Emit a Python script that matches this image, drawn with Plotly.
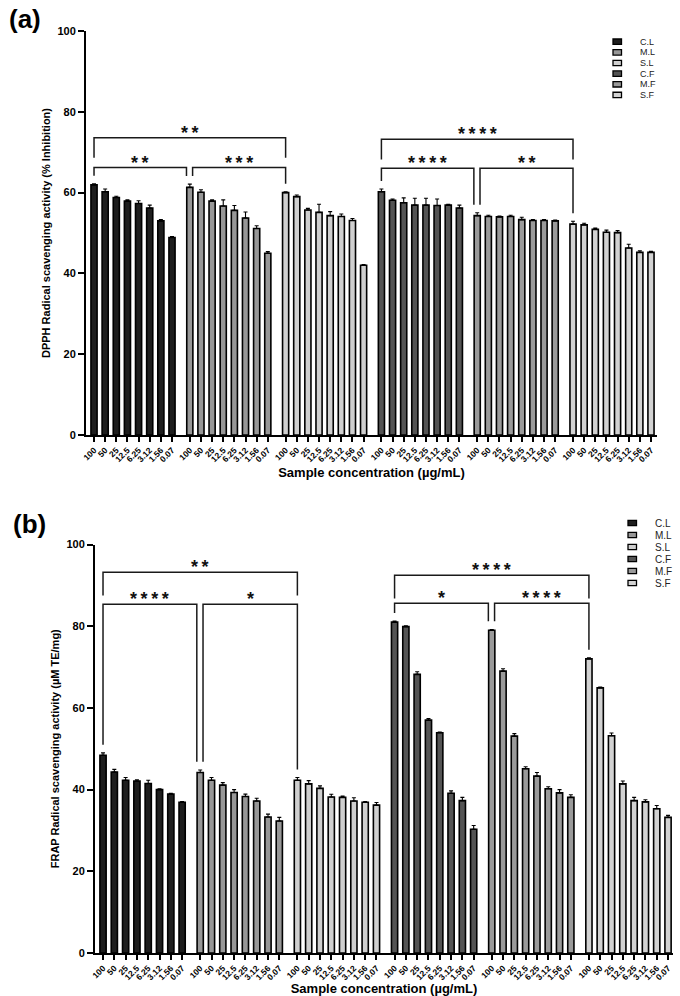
import plotly.graph_objects as go

W, H = 680, 996

samples = ["C.L", "M.L", "S.L", "C.F", "M.F", "S.F"]
concentrations = ["100", "50", "25", "12.5", "6.25", "3.12", "1.56", "0.07"]
colors = ["#1e1e1e", "#979797", "#cfcfcf", "#545454", "#9a9a9a", "#d2d2d2"]

# ---- Panel (a): DPPH (% inhibition) ----
dpph_CL = [61.9, 60.2, 58.8, 57.9, 57.3, 56.2, 53.0, 48.9]
dpph_CL_err = [0.3, 0.7, 0.3, 0.3, 0.7, 0.7, 0.3, 0.2]
dpph_ML = [61.3, 60.1, 57.9, 56.7, 55.6, 53.7, 51.1, 45.0]
dpph_ML_err = [0.8, 0.6, 0.3, 1.5, 1.2, 1.5, 0.7, 0.4]
dpph_SL = [60.0, 59.0, 55.7, 55.1, 54.3, 54.1, 53.1, 42.0]
dpph_SL_err = [0.2, 0.4, 0.4, 2.0, 1.0, 0.6, 0.5, 0.2]
dpph_CF = [60.2, 58.1, 57.5, 56.9, 56.9, 56.8, 56.9, 56.2]
dpph_CF_err = [0.7, 0.3, 1.2, 1.7, 1.7, 1.6, 0.2, 0.7]
dpph_MF = [54.3, 54.1, 54.0, 54.1, 53.3, 53.1, 53.1, 53.0]
dpph_MF_err = [0.7, 0.3, 0.2, 0.3, 0.6, 0.2, 0.2, 0.2]
dpph_SF = [52.2, 52.0, 50.9, 50.2, 50.1, 46.3, 45.2, 45.2]
dpph_SF_err = [0.7, 0.4, 0.3, 0.5, 0.5, 0.9, 0.4, 0.3]

# ---- Panel (b): FRAP (uM TE/mg) ----
frap_CL = [48.4, 44.3, 42.3, 42.1, 41.5, 40.0, 38.9, 36.9]
frap_CL_err = [0.6, 0.65, 0.65, 0.3, 0.8, 0.2, 0.2, 0.2]
frap_ML = [44.2, 42.3, 41.1, 39.3, 38.3, 37.2, 33.3, 32.3]
frap_ML_err = [0.6, 0.65, 0.6, 0.7, 0.6, 0.7, 0.7, 0.9]
frap_SL = [42.3, 41.4, 40.3, 38.2, 38.1, 37.2, 36.9, 36.2]
frap_SL_err = [0.65, 0.8, 0.6, 0.65, 0.3, 0.8, 0.2, 0.65]
frap_CF = [81.0, 79.9, 68.2, 57.0, 53.9, 39.1, 37.3, 30.3]
frap_CF_err = [0.25, 0.2, 0.65, 0.4, 0.2, 0.6, 0.8, 0.9]
frap_MF = [79.0, 69.0, 53.1, 45.1, 43.3, 40.2, 39.2, 38.1]
frap_MF_err = [0.2, 0.6, 0.6, 0.5, 0.9, 0.5, 0.8, 0.65]
frap_SF = [72.0, 64.9, 53.2, 41.4, 37.3, 37.0, 35.3, 33.2]
frap_SF_err = [0.25, 0.2, 0.65, 0.7, 0.8, 0.5, 0.8, 0.5]

dpph_values = [dpph_CL, dpph_ML, dpph_SL, dpph_CF, dpph_MF, dpph_SF]
dpph_errors = [dpph_CL_err, dpph_ML_err, dpph_SL_err, dpph_CF_err, dpph_MF_err, dpph_SF_err]
frap_values = [frap_CL, frap_ML, frap_SL, frap_CF, frap_MF, frap_SF]
frap_errors = [frap_CL_err, frap_ML_err, frap_SL_err, frap_CF_err, frap_MF_err, frap_SF_err]

# significance brackets: (first group, second group, bracket level, stars, kind)
dpph_brackets = [(0, 2, 73.6, "**", "outer"), (0, 1, 66.2, "**", "left"), (1, 2, 66.2, "***", "right"),
                 (3, 5, 73.2, "****", "outer"), (3, 4, 66.0, "****", "left"), (4, 5, 66.0, "**", "right")]
frap_brackets = [(0, 2, 93.2, "**", "outer"), (0, 1, 85.4, "****", "left"), (1, 2, 85.4, "*", "right"),
                 (3, 5, 92.5, "****", "outer"), (3, 4, 85.6, "*", "left"), (4, 5, 85.6, "****", "right")]

GROUP_STEP = 8.6  # slot units between group starts


def positions(g):
    return [g * GROUP_STEP + i for i in range(len(concentrations))]


fig = go.Figure()
FONT = "Liberation Sans, Arial, sans-serif"

panels = [
    dict(vals=dpph_values, errs=dpph_errors, brackets=dpph_brackets, xa="x", ya="y",
         xdom_px=(86, 657), ydom_px=(435, 31), xr=(-0.72, 50.54),
         ytitle="DPPH Radical scavenging activity (% Inhibition)", label="(a)", label_px=(7, 19),
         leg_px=(613, 41.7, 10.65), leg_font=9, drop=5.0),
    dict(vals=frap_values, errs=frap_errors, brackets=frap_brackets, xa="x2", ya="y2",
         xdom_px=(95, 673), ydom_px=(953, 544.5), xr=(-0.71, 50.44),
         ytitle="FRAP Radical scavenging activity (µM TE/mg)", label="(b)", label_px=(11, 524),
         leg_px=(628, 523, 12.0), leg_font=10, drop=5.7),
]

all_pos = []
all_txt = []
for g in range(len(samples)):
    all_pos += positions(g)
    all_txt += concentrations

shapes = []
annotations = []
for p in panels:
    for g, name in enumerate(samples):
        fig.add_trace(go.Bar(
            x=positions(g), y=p["vals"][g], name=name, width=0.55,
            marker=dict(color=colors[g], line=dict(color="#000000", width=1.6)),
            error_y=dict(type="data", array=p["errs"][g], arrayminus=[0] * 8, symmetric=False,
                         color="#000000", thickness=1.1, width=2),
            xaxis=p["xa"], yaxis=p["ya"], showlegend=False, hoverinfo="skip"))
    # brackets
    for (ga, gb, level, stars, kind) in p["brackets"]:
        xl = positions(ga)[0]
        xr = positions(gb)[0]
        if kind == "outer":
            yl = level - p["drop"]
            yr = level - p["drop"]
        else:
            yl = p["vals"][ga][0] + p["errs"][ga][0] + 2.0
            yr = p["vals"][gb][0] + p["errs"][gb][0] + 2.0
            if kind == "left":
                xr -= 0.3
            else:
                xl += 0.25
        fig.add_trace(go.Scatter(x=[xl, xl, xr, xr], y=[yl, level, level, yr], mode="lines",
                                 line=dict(color="#1a1a1a", width=1.5), xaxis=p["xa"], yaxis=p["ya"],
                                 showlegend=False, hoverinfo="skip"))
        annotations.append(dict(x=(xl + xr) / 2, y=level, xref=p["xa"], yref=p["ya"],
                                text="\u2009".join(stars),
                                showarrow=False, yanchor="middle", yshift=5,
                                font=dict(family=FONT, size=18, color="#111111", weight="bold")))
    # panel label
    annotations.append(dict(x=p["label_px"][0] / W, y=1 - p["label_px"][1] / H, xref="paper", yref="paper",
                            text=p["label"], showarrow=False, xanchor="left", yanchor="middle",
                            font=dict(family=FONT, size=26, color="#000000", weight="bold")))
    # legend
    lx, ly0, ldy = p["leg_px"]
    for g, name in enumerate(samples):
        cy = ly0 + g * ldy
        shapes.append(dict(type="rect", xref="paper", yref="paper",
                           x0=lx / W, x1=(lx + 8.5) / W, y0=1 - (cy - 2.7) / H, y1=1 - (cy + 2.7) / H,
                           fillcolor=colors[g], line=dict(color="#000000", width=1.3)))
        annotations.append(dict(x=(lx + 26) / W, y=1 - cy / H, xref="paper", yref="paper", text=name,
                                showarrow=False, xanchor="left", yanchor="middle", borderpad=0,
                                font=dict(family=FONT, size=p["leg_font"], color="#222222")))

axis_common = dict(showline=True, linecolor="#000000", linewidth=2, ticks="outside", tickcolor="#000000",
                   showgrid=False, zeroline=False, automargin=False)

layout_axes = {}
for k, p in enumerate(panels):
    xname = "xaxis" if k == 0 else "xaxis2"
    yname = "yaxis" if k == 0 else "yaxis2"
    x0, x1 = p["xdom_px"]
    yb, yt = p["ydom_px"]
    layout_axes[xname] = dict(axis_common, domain=[x0 / W, x1 / W], range=list(p["xr"]), anchor=p["ya"],
                              tickmode="array", tickvals=all_pos, ticktext=all_txt, tickangle=-45,
                              ticklen=5, tickwidth=1.5,
                              tickfont=dict(family=FONT, size=8.5, color="#000000", weight="bold"),
                              title=dict(text="Sample concentration (µg/mL)", standoff=5,
                                         font=dict(family=FONT, size=13, color="#000000", weight="bold")))
    layout_axes[yname] = dict(axis_common, domain=[1 - yb / H, 1 - yt / H], range=[0, 100], anchor=p["xa"],
                              tickvals=[0, 20, 40, 60, 80, 100], ticklen=6, tickwidth=2,
                              tickfont=dict(family=FONT, size=11, color="#000000", weight="bold"),
                              title=dict(text=p["ytitle"], standoff=5,
                                         font=dict(family=FONT, size=11, color="#000000", weight="bold")))

fig.update_layout(width=W, height=H, margin=dict(l=0, r=0, t=0, b=0, autoexpand=False), plot_bgcolor="white",
                  paper_bgcolor="white", barmode="overlay", showlegend=False,
                  shapes=shapes, annotations=annotations, **layout_axes)

fig.write_html("out.html", config={"displayModeBar": False},
               post_script="document.body.style.margin='0px';document.body.style.padding='0px';")
